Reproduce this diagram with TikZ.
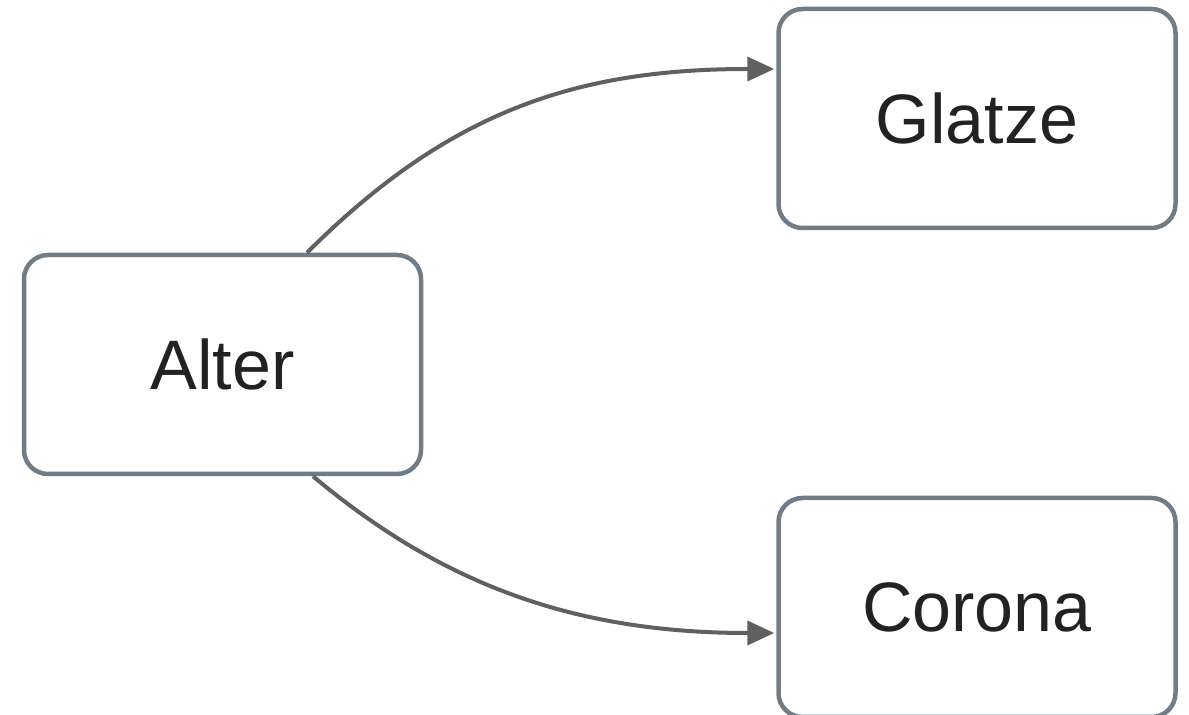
\documentclass[tikz,border=0pt]{standalone}
\usepackage{fontspec}
\setmainfont{Liberation Sans}
\usetikzlibrary{arrows.meta}
\definecolor{boxline}{HTML}{6F7D89}
\definecolor{arrowcol}{HTML}{606060}
\definecolor{txt}{HTML}{222222}
\begin{document}
\begin{tikzpicture}[x=1pt,y=1pt,
  box/.style={draw=boxline, line width=4.5pt, rounded corners=24pt, fill=white,
    minimum width=397pt, minimum height=219pt, inner sep=0pt,
    text=txt, font=\fontsize{70}{84}\selectfont},
  conn/.style={draw=arrowcol, line width=4pt,
    -{Triangle[length=27pt,width=24pt]}, shorten >=2pt}]
\useasboundingbox (0,0) rectangle (1189,715);
\node[box] (alter) at (222.5,350.5) {Alter};
\node[box] (glatze) at (977,596.5) {Glatze};
\node[box] (corona) at (977,107.5) {Corona};
\draw[conn] ([xshift=84.5pt]alter.north) .. controls +(45:200) and +(-200,0) .. ([yshift=49.5pt]glatze.west);
\draw[conn] ([xshift=90.5pt]alter.south) .. controls +(-40:170) and +(-200,0) .. ([yshift=-25.5pt]corona.west);
\end{tikzpicture}
\end{document}
